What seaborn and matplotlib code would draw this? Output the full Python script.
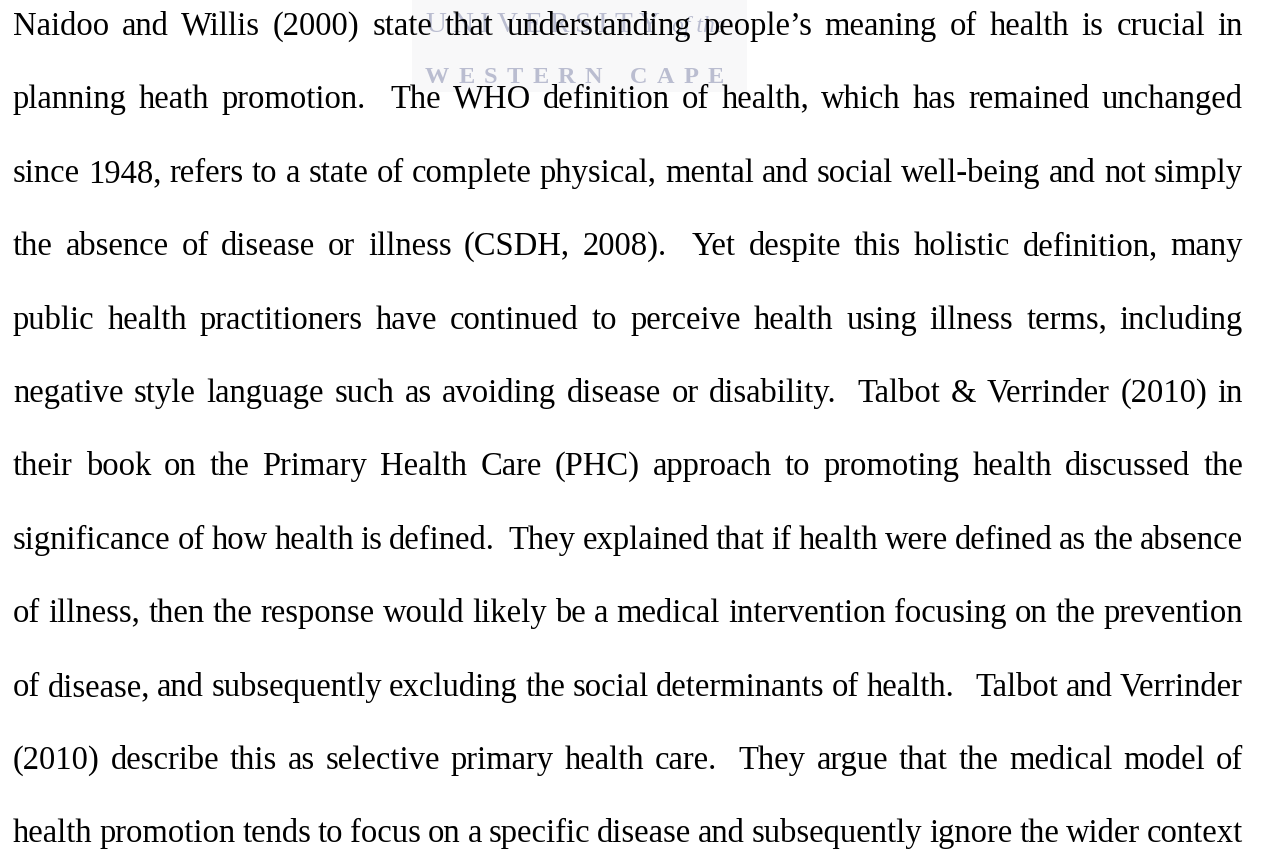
import re
import matplotlib
matplotlib.use("Agg")
import matplotlib.pyplot as plt
import seaborn as sns
from matplotlib.patches import Rectangle

# paragraph text, one entry per printed line (extra spaces after full stops kept)
lines = [
    "Naidoo and Willis (2000) state that understanding people’s meaning of health is crucial in",
    "planning heath promotion.  The WHO definition of health, which has remained unchanged",
    "since 1948, refers to a state of complete physical, mental and social well-being and not simply",
    "the absence of disease or illness (CSDH, 2008).  Yet despite this holistic definition, many",
    "public health practitioners have continued to perceive health using illness terms, including",
    "negative style language such as avoiding disease or disability.  Talbot & Verrinder (2010) in",
    "their book on the Primary Health Care (PHC) approach to promoting health discussed the",
    "significance of how health is defined.  They explained that if health were defined as the absence",
    "of illness, then the response would likely be a medical intervention focusing on the prevention",
    "of disease, and subsequently excluding the social determinants of health.   Talbot and Verrinder",
    "(2010) describe this as selective primary health care.  They argue that the medical model of",
    "health promotion tends to focus on a specific disease and subsequently ignore the wider context",
]

# faint university watermark behind the first lines
wm_top = "UNIVERSITY"
wm_top_small = "of the"
wm_bottom = "WESTERN CAPE"

sns.set_style("white")
plt.rcParams['font.family'] = ['Liberation Serif', 'DejaVu Serif']

W, H = 1266, 852
fig = plt.figure(figsize=(W / 100, H / 100), dpi=100)
ax = fig.add_axes([0, 0, 1, 1])
ax.set_xlim(0, W)
ax.set_ylim(H, 0)
ax.axis('off')
r = fig.canvas.get_renderer()


def justify(tokens, x0, x1, y, **kw):
    # tokens = list of (gap_units_before, text); spread gaps so the run fills x0..x1
    arts = [ax.text(0, y, t, ha='left', va='baseline', **kw) for _, t in tokens]
    widths = [a.get_window_extent(r).width for a in arts]
    n_gaps = sum(g for g, _ in tokens[1:])
    unit = (x1 - x0 - sum(widths)) / max(n_gaps, 1)
    x = x0
    for i, (a, w) in enumerate(zip(arts, widths)):
        if i:
            x += tokens[i][0] * unit
        a.set_x(x)
        x += w


def letters(s):
    out, gap = [], 0
    for ch in s:
        if ch == ' ':
            gap += 2
            continue
        out.append((gap + 1, ch))
        gap = 0
    return out


# watermark
ax.add_patch(Rectangle((412, 0), 335, 92, facecolor='#f8f8f9', edgecolor='none', zorder=0))
wm_col = '#babdd0'
justify(letters(wm_top), 425, 660, 32, fontsize=21, color=wm_col, zorder=1)
ax.text(672, 32, wm_top_small, ha='left', va='baseline', fontsize=17,
        style='italic', color=wm_col, zorder=1)
justify(letters(wm_bottom), 425, 724, 83, fontsize=17.5, fontweight='bold',
        color=wm_col, zorder=1)

# body text, fully justified
left, right = 13, 1243
base0, step = 35, 73.4
for i, line in enumerate(lines):
    toks = [(len(sp), w) for sp, w in re.findall(r'(\s*)(\S+)', line)]
    justify(toks, left, right, round(base0 + i * step), fontsize=23.5,
            color='black', zorder=2)

fig.savefig('out.png', dpi=100, facecolor='white')
